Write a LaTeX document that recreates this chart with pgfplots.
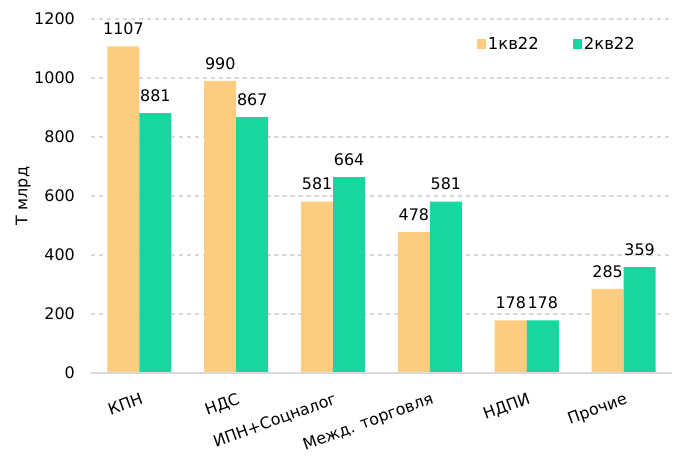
\documentclass[border=0pt]{standalone}
\usepackage{fontspec}
\setmainfont{DejaVu Sans}
\usepackage{pgfplots}
\pgfplotsset{compat=1.18}
\definecolor{corange}{RGB}{252,205,128}
\definecolor{cgreen}{RGB}{23,214,160}
\definecolor{cgrid}{RGB}{217,217,217}
\begin{document}
\begin{tikzpicture}
\begin{axis}[
  scale only axis,
  width=581bp, height=354bp,
  ymin=0, ymax=1200,
  xmin=-0.5, xmax=5.5,
  ytick={0,200,...,1200},
  xtick={0,...,5},
  xticklabels={КПН,НДС,ИПН+Соцналог,Межд. торговля,НДПИ,Прочие},
  ybar=0pt, bar width=32bp,
  axis line style={draw=none},
  ymajorgrids,
  grid style={cgrid, line width=1.1pt, dash pattern=on 4.5pt off 3.5pt},
  major tick length=0pt,
  tick style={draw=none},
  /pgf/number format/assume math mode=true,
  /pgf/number format/1000 sep={},
  yticklabel style={font=\fontsize{16}{18}\selectfont, inner sep=0pt, xshift=-16bp},
  xticklabel style={font=\fontsize{16}{18}\selectfont, rotate=20, anchor=north east, inner sep=0pt, yshift=-18bp, xshift=-6bp},
  ylabel={Т млрд},
  ylabel style={font=\fontsize{16}{18}\selectfont},
  nodes near coords,
  nodes near coords style={font=\fontsize{16}{18}\selectfont, anchor=south, yshift=8bp},
  legend columns=2,
  legend style={draw=none, fill=none, at={(rel axis cs:0.945,0.96)}, anchor=north east,
    font=\fontsize{16.5}{18}\selectfont, /tikz/every even column/.append style={column sep=32bp}},
  legend image code/.code={\fill[#1] (-3bp,-5bp) rectangle (6bp,5bp);},
  clip=false,
]
\addplot[fill=corange, draw=none] coordinates {(0,1107) (1,990) (2,581) (3,478) (4,178) (5,285)};
\addplot[fill=cgreen, draw=none] coordinates {(0,881) (1,867) (2,664) (3,581) (4,178) (5,359)};
\legend{1кв22,2кв22}
\draw[cgrid, line width=1.5pt] (rel axis cs:0,0) -- (rel axis cs:1,0);
\end{axis}
\pgfresetboundingbox
\path (0,0) ++(-91bp,-83bp) rectangle ++(674bp,456bp);
\end{tikzpicture}
\end{document}
